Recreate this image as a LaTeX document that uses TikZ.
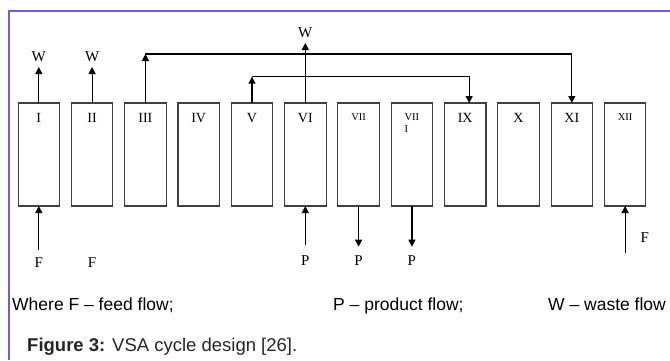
\documentclass[tikz,border=0pt]{standalone}
\usepackage{fontspec}
\setmainfont{Liberation Serif}
\setsansfont{Liberation Sans}
\usetikzlibrary{arrows.meta,positioning}
\definecolor{framepurple}{RGB}{122,92,196}
\definecolor{boxgray}{RGB}{64,64,64}
\tikzset{
  stage/.style={
    draw=boxgray,
    line width=1.1pt,
    minimum width=41.5pt,
    minimum height=103pt,
    inner sep=0pt,
    outer sep=0pt
  },
  numeral/.style={anchor=north, yshift=-10pt, inner sep=0pt, font=\fontsize{14}{16}\selectfont},
  smallnum/.style={numeral, align=left, font=\fontsize{10.5}{12.6}\selectfont},
  flowlbl/.style={inner sep=0pt, font=\fontsize{15}{18}\selectfont},
  legend/.style={anchor=base west, inner sep=0pt, font=\sffamily\fontsize{17.5}{21}\selectfont},
  flow/.style={-{Triangle[length=7pt,width=7pt]}, line width=1.2pt},
  frame/.style={draw=framepurple, line width=1.4pt}
}

\begin{document}
\begin{tikzpicture}[x=1pt, y=1pt, node distance=11.8pt]
  \useasboundingbox (0,0) rectangle (670,360);
  \draw[frame] (9,0) |- (670,349);

  % the twelve steps
  \node[stage, label={[numeral]north:I}] (s1) at (38.8,205.5) {};
  \node[stage, right=of s1, label={[numeral]north:II}] (s2) {};
  \node[stage, right=of s2, label={[numeral]north:III}] (s3) {};
  \node[stage, right=of s3, label={[numeral]north:IV}] (s4) {};
  \node[stage, right=of s4, label={[numeral]north:V}] (s5) {};
  \node[stage, right=of s5, label={[numeral]north:VI}] (s6) {};
  \node[stage, right=of s6, label={[smallnum]north:VII}] (s7) {};
  \node[stage, right=of s7, label={[smallnum]north:VII\\I}] (s8) {};
  \node[stage, right=of s8, label={[numeral]north:IX}] (s9) {};
  \node[stage, right=of s9, label={[numeral]north:X}] (s10) {};
  \node[stage, right=of s10, label={[numeral]north:XI}] (s11) {};
  \node[stage, right=of s11, label={[smallnum]north:XII}] (s12) {};

  % waste out and pressure equalisation
  \draw[flow] (s1.north) -- ++(0,36) node[flowlbl, above=4.5pt] (w1) {W};
  \draw[flow] (s2.north) -- ++(0,36) node[flowlbl, above=4.5pt] (w2) {W};
  \coordinate (busA) at ([yshift=49pt]s3.north);
  \coordinate (busB) at ([yshift=26.3pt]s5.north);
  \draw[flow] (s3.north) -- (busA);
  \draw[flow] (busA) -| (s11.north);
  \draw[flow] (s5.north) -- (busB);
  \draw[flow] (busB) -| ([xshift=4pt]s9.north);
  \draw[flow] (s6.north) -- ++(0,60) node[flowlbl, above=4.5pt] (w6) {W};

  % feed in and product out
  \coordinate (in1) at ([yshift=-44pt]s1.south);
  \draw[flow] (in1) -- (s1.south);
  \node[flowlbl, below=7.7pt of in1] (f1) {F};
  \node[flowlbl] (f2) at (f1 -| s2.south) {F};
  \coordinate (in6) at ([yshift=-39pt]s6.south);
  \draw[flow] (in6) -- (s6.south);
  \node[flowlbl, below=10pt of in6] (p6) {P};
  \draw[flow] (s7.south) -- ++(0,-40.7) coordinate (out7);
  \node[flowlbl, below=8.3pt of out7] (p7) {P};
  \draw[flow] (s8.south) -- ++(0,-40.7) coordinate (out8);
  \node[flowlbl, below=8.3pt of out8] (p8) {P};
  \coordinate (in12) at ([yshift=-46.7pt]s12.south);
  \draw[flow] (in12) -- (s12.south) node[flowlbl, pos=0.33, right=15pt] (f12) {F};

  % key and caption
  \node[legend] (key1) at (12,50) {Where F – feed flow;};
  \node[legend] (key2) at (333,50) {P – product flow;};
  \node[legend] (key3) at (548,50) {W – waste flow};
  \node[legend, font=\sffamily\fontsize{18.5}{22}\selectfont, text=black!85] (caption) at (27,8.3) {\textbf{Figure 3:} VSA cycle design [26].};
\end{tikzpicture}
\end{document}
